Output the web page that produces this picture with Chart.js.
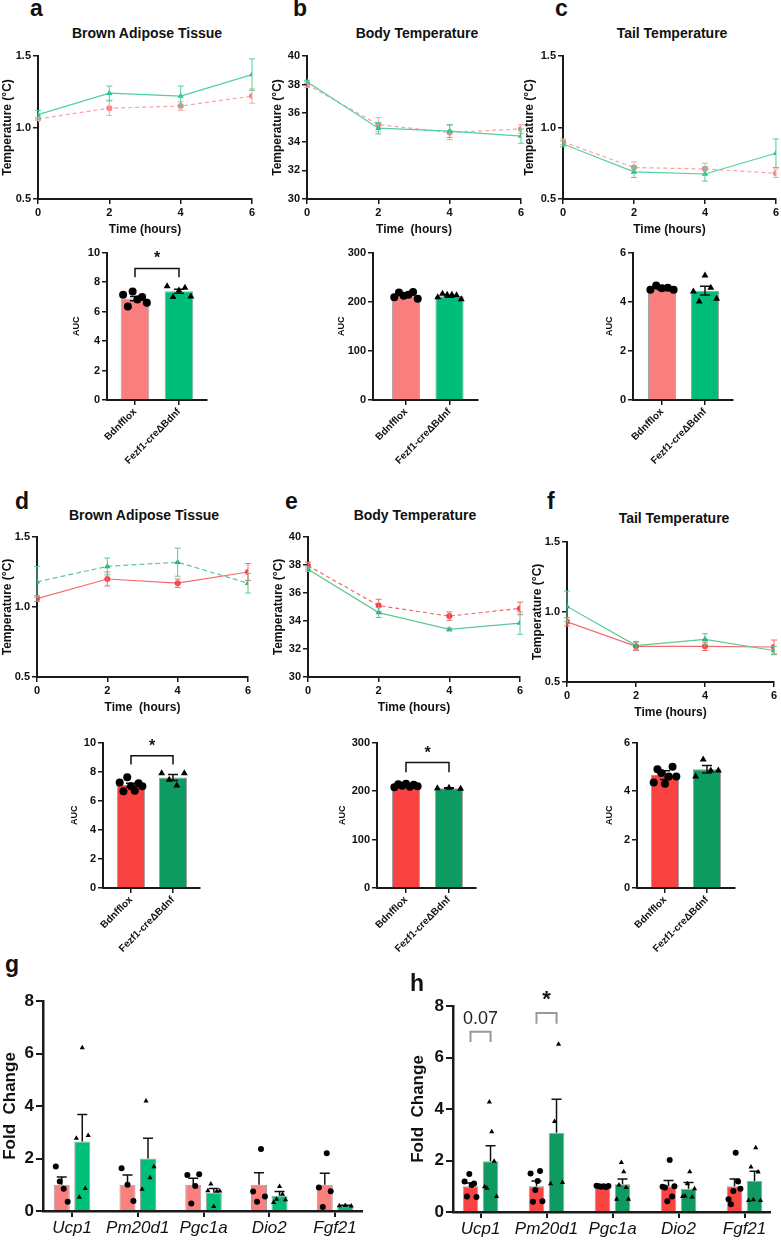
<!DOCTYPE html>
<html><head><meta charset="utf-8">
<script src="https://cdn.jsdelivr.net/npm/chart.js@4.4.0/dist/chart.umd.min.js"></script>
<style>
html,body{margin:0;padding:0;background:#fff;}
#root{position:relative;width:781px;height:1240px;overflow:hidden;font-family:"Liberation Sans",Arial,sans-serif;}
canvas{position:absolute;}
.t{position:absolute;white-space:nowrap;line-height:1;color:#111;font-weight:bold;}
</style></head><body><div id="root"></div>
<script>
// ---------------- DATA ----------------
const hours = [0, 2, 4, 6];
const groups = ['Bdnfflox', 'Fezf1-creΔBdnf'];
const genes = ['Ucp1', 'Pm20d1', 'Pgc1a', 'Dio2', 'Fgf21'];

// line panels (mean, SEM)
const aFlox = [1.06, 1.135, 1.15, 1.22], aFloxSem = [0.01, 0.05, 0.03, 0.05];
const aKo   = [1.09, 1.24, 1.22, 1.37],  aKoSem   = [0.03, 0.05, 0.07, 0.11];
const bFlox = [38.0, 35.2, 34.65, 34.9], bFloxSem = [0.2, 0.5, 0.5, 0.3];
const bKo   = [38.2, 34.95, 34.75, 34.4], bKoSem  = [0.1, 0.4, 0.45, 0.5];
const cFlox = [0.90, 0.72, 0.71, 0.68],  cFloxSem = [0.02, 0.04, 0.04, 0.03];
const cKo   = [0.885, 0.69, 0.675, 0.82], cKoSem  = [0.02, 0.04, 0.05, 0.1];
const dFlox = [1.06, 1.20, 1.17, 1.25],  dFloxSem = [0.02, 0.05, 0.03, 0.06];
const dKo   = [1.18, 1.29, 1.32, 1.17],  dKoSem   = [0.11, 0.06, 0.10, 0.07];
const eFlox = [37.95, 35.1, 34.35, 34.9], eFloxSem = [0.25, 0.45, 0.3, 0.45];
const eKo   = [37.7, 34.6, 33.4, 33.85], eKoSem   = [0.15, 0.35, 0.1, 0.8];
const fFlox = [0.93, 0.755, 0.755, 0.75], fFloxSem = [0.03, 0.03, 0.03, 0.05];
const fKo   = [1.04, 0.76, 0.805, 0.725], fKoSem  = [0.11, 0.03, 0.04, 0.03];

// AUC panels: individual points, mean, SEM
const aucAFloxPts = [7.14, 6.35, 7.36, 6.82, 6.98, 6.60], aucAFloxMean = 6.88, aucAFloxSem = 0.15;
const aucAKoPts   = [7.72, 6.98, 7.43, 7.61, 7.03],       aucAKoMean   = 7.38, aucAKoSem   = 0.14;
const aucBFloxPts = [209, 219, 212, 214, 220, 206],       aucBFloxMean = 213, aucBFloxSem = 2.2;
const aucBKoPts   = [209, 216, 214, 214, 213, 205],       aucBKoMean   = 211, aucBKoSem   = 1.7;
const aucCFloxPts = [4.49, 4.66, 4.55, 4.57, 4.49],       aucCFloxMean = 4.52, aucCFloxSem = 0.03;
const aucCKoPts   = [4.42, 4.01, 5.07, 4.57, 4.12],       aucCKoMean   = 4.45, aucCKoSem   = 0.18;
const aucDFloxPts = [7.25, 6.65, 7.62, 7.0, 6.68, 7.2, 7.0], aucDFloxMean = 7.08, aucDFloxSem = 0.13;
const aucDKoPts   = [7.9, 7.44, 7.05, 7.9],               aucDKoMean   = 7.6, aucDKoSem   = 0.2;
const aucEFloxPts = [208, 214, 211, 215, 209, 213, 210],  aucEFloxMean = 211, aucEFloxSem = 1.2;
const aucEKoPts   = [206, 207, 205],                      aucEKoMean   = 206, aucEKoSem   = 0.6;
const aucFFloxPts = [4.35, 4.9, 4.75, 4.3, 4.6, 5.0, 4.6], aucFFloxMean = 4.66, aucFFloxSem = 0.18;
const aucFKoPts   = [4.6, 5.3, 4.85, 4.85],               aucFKoMean   = 4.9, aucFKoSem   = 0.15;

// gene expression panels
const gFloxMean = [1, 1, 1, 1, 1], gFloxSem = [0.3, 0.37, 0.25, 0.46, 0.44];
const gKoMean = [2.65, 2.0, 0.7, 0.58, 0.2], gKoSem = [1.03, 0.77, 0.16, 0.16, 0.02];
const gFloxPts = [[1.7, 1.12, 0.85, 0.35], [1.63, 1.0, 0.38], [1.37, 0.29, 0.95, 1.40], [0.74, 0.35, 2.36, 0.55], [0.9, 0.15, 2.2, 0.75]];
const gKoPts = [[2.77, 0.52, 6.22, 0.86, 2.88], [0.83, 4.19, 1.27, 1.69], [0.77, 1.03, 0.17, 0.75, 0.76], [0.32, 0.45, 0.93, 0.64, 0.43], [0.2, 0.21, 0.19]];
const hFloxMean = [1, 1, 1, 1, 1], hFloxSem = [0.13, 0.2, 0.02, 0.22, 0.28];
const hKoMean = [1.97, 3.08, 1.08, 0.9, 1.2], hKoSem = [0.6, 1.3, 0.2, 0.25, 0.38];
const hFloxPts = [[1.18, 0.6, 1.48, 1.05, 1.11, 0.58], [1.5, 0.4, 0.85, 1.2, 1.59, 0.42], [1.02, 1.0, 0.98, 1.0, 0.97, 1.01], [0.98, 0.95, 0.42, 2.02, 0.6, 1.0], [0.5, 0.3, 0.82, 2.3, 1.18, 0.9]];
const hKoPts = [[0.98, 0.92, 4.27, 3.12, 1.97, 0.6], [1.1, 3.51, 6.51, 1.15], [0.5, 1.05, 1.92, 1.56, 0.95, 0.5], [0.6, 0.62, 1.1, 1.56, 0.58, 0.9], [0.45, 1.75, 0.48, 2.5, 1.55, 0.45]];

const lineTicksA = [0.5, 1.0, 1.5], lineTicksB = [30, 32, 34, 36, 38, 40];
const aucTicks10 = [0, 2, 4, 6, 8, 10], aucTicks300 = [0, 100, 200, 300], aucTicks6 = [0, 2, 4, 6];
const foldTicks = [0, 2, 4, 6, 8];

// ---------------- RENDER ----------------
const FF = '"Liberation Sans", Arial, sans-serif';
const AX = '#1a1a1a';
Chart.defaults.font.family = FF;
Chart.defaults.color = '#111';

const errPlugin = {
  id: 'errbars',
  afterDatasetDraw(chart, args) {
    const ds = chart.data.datasets[args.index];
    if (!ds.err) return;
    const meta = args.meta, ys = chart.scales[meta.yAxisID], ctx = chart.ctx;
    ctx.save();
    ctx.strokeStyle = ds.errColor; ctx.lineWidth = ds.errWidth || 1;
    meta.data.forEach((el, j) => {
      const raw = ds.data[j]; const v = typeof raw === 'object' ? raw.y : raw;
      const e = ds.err[j]; if (e == null) return;
      const x = el.x;
      const y1 = ys.getPixelForValue(v + e);
      const y0 = ds.errUpOnly ? ys.getPixelForValue(v) : ys.getPixelForValue(v - e);
      ctx.beginPath();
      ctx.moveTo(x, y0); ctx.lineTo(x, y1);
      ctx.moveTo(x - ds.capW, y1); ctx.lineTo(x + ds.capW, y1);
      if (!ds.errUpOnly) { ctx.moveTo(x - ds.capW, y0); ctx.lineTo(x + ds.capW, y0); }
      ctx.stroke();
    });
    ctx.restore();
  }
};
const sigPlugin = {
  id: 'sig',
  afterDraw(chart, args, o) {
    const items = (o && o.items) || [];
    const ctx = chart.ctx, xs = chart.scales.x, ys = chart.scales.y;
    items.forEach(it => {
      const x1 = xs.getPixelForValue(it.x1), x2 = xs.getPixelForValue(it.x2);
      const yt = ys.getPixelForValue(it.y), yb = ys.getPixelForValue(it.y - it.drop);
      ctx.save();
      ctx.strokeStyle = it.color; ctx.lineWidth = it.lw;
      ctx.beginPath(); ctx.moveTo(x1, yb); ctx.lineTo(x1, yt); ctx.lineTo(x2, yt); ctx.lineTo(x2, yb); ctx.stroke();
      ctx.fillStyle = it.textColor; ctx.font = it.font; ctx.textAlign = 'center'; ctx.textBaseline = 'middle';
      ctx.fillText(it.text, (x1 + x2) / 2, ys.getPixelForValue(it.ty));
      ctx.restore();
    });
  }
};
Chart.register(errPlugin, sigPlugin);

const root = document.getElementById('root');
function canvasFor(area, m) {
  const c = document.createElement('canvas');
  const w = area.r - area.l + m.l + m.r, h = area.b - area.t + m.t + m.b;
  c.width = w; c.height = h;
  c.style.left = (area.l - m.l) + 'px'; c.style.top = (area.t - m.t) + 'px';
  c.style.width = w + 'px'; c.style.height = h + 'px';
  root.appendChild(c);
  return c;
}
function text(str, left, baseline, size, extra) {
  const d = document.createElement('div');
  d.className = 't'; d.textContent = str;
  d.style.fontSize = size + 'px';
  d.style.left = left + 'px'; d.style.top = (baseline - 0.85 * size) + 'px';
  if (extra) Object.assign(d.style, extra);
  root.appendChild(d);
}
function ctext(str, cx, baseline, size) {
  text(str, cx - 200, baseline, size, {width: '400px', textAlign: 'center'});
}
function baseOpts(m, sigItems) {
  return {
    responsive: false, animation: false, events: [],
    layout: {padding: {top: m.t, right: m.r, left: 0, bottom: 0}},
    plugins: {legend: {display: false}, tooltip: {enabled: false}, sig: {items: sigItems || []}},
  };
}
function yAxis(m, min, max, tickVals, fs, title, tfs, fmt, bw) {
  return {
    type: 'linear', min, max,
    afterFit: s => { s.width = m.l; },
    afterBuildTicks: s => { s.ticks = tickVals.map(v => ({value: v})); },
    border: {display: true, color: AX, width: bw || 2},
    grid: {display: true, drawOnChartArea: false, drawTicks: true, tickLength: 5, color: AX, lineWidth: 1.5},
    ticks: {padding: 2, color: '#111', font: {size: fs, weight: 'bold'}, callback: fmt || (v => v)},
    title: {display: true, text: title, padding: 0, color: '#111', font: {size: tfs, weight: 'bold'}}
  };
}

function lineChart(area, m, flox, floxSem, ko, koSem, ymin, ymax, yTicks, fmt, xTitle, st) {
  const c = canvasFor(area, m);
  const mk = (vals, errs, col, lineCol, ps, r, dash) => ({
    type: 'scatter', showLine: true, data: hours.map((h, i) => ({x: h, y: vals[i]})),
    borderColor: lineCol, borderWidth: 1.2, borderDash: dash,
    pointStyle: ps, pointRadius: r, pointBackgroundColor: col, pointBorderColor: col, pointBorderWidth: 0,
    err: errs, errColor: lineCol, capW: 3, errWidth: 1
  });
  const opts = baseOpts(m);
  opts.scales = {
    x: {
      type: 'linear', min: 0, max: 6, offset: false,
      afterFit: s => { s.height = m.b; },
      afterBuildTicks: s => { s.ticks = hours.map(v => ({value: v})); },
      border: {display: true, color: AX, width: 2},
      grid: {display: true, offset: false, drawOnChartArea: false, drawTicks: true, tickLength: 5, color: AX, lineWidth: 1.5},
      ticks: {padding: 2, maxRotation: 0, color: '#111', font: {size: 11, weight: 'bold'}},
      title: {display: true, text: xTitle, padding: 0, color: '#111', font: {size: 12, weight: 'bold'}}
    },
    y: yAxis(m, ymin, ymax, yTicks, 11, 'Temperature (°C)', 12, fmt)
  };
  new Chart(c, {type: 'scatter', data: {datasets: [
    mk(ko, koSem, st.gp, st.gl, 'triangle', 3.5, st.gd),
    mk(flox, floxSem, st.rp, st.rl, 'circle', 3, st.rd)
  ]}, options: opts});
}

function jit(k, n, s) { return n === 1 ? 0 : -s + 2 * s * k / (n - 1); }

function aucChart(area, m, xr, bw, floxPts, floxMean, floxSem, koPts, koMean, koSem, ymax, yTicks, cols, sig) {
  const c = canvasFor(area, m);
  const opts = baseOpts(m, sig);
  opts.scales = {
    x: {
      type: 'linear', min: xr[0], max: xr[1], offset: false,
      afterFit: s => { s.height = m.b; },
      afterBuildTicks: s => { s.ticks = groups.map((g, i) => ({value: i})); },
      border: {display: true, color: AX, width: 2},
      grid: {display: true, offset: false, drawOnChartArea: false, drawTicks: true, tickLength: 5, color: AX, lineWidth: 1.5},
      ticks: {padding: 1, minRotation: 45, maxRotation: 45, autoSkip: false, color: '#111',
              font: {size: 10, weight: 'bold'}, callback: v => groups[Math.round(v)]}
    },
    y: yAxis(m, 0, ymax, yTicks, 11, 'AUC', 9)
  };
  const pts = (arr, gi, ps) => ({
    type: 'scatter', order: 0, data: arr.map((v, k) => ({x: gi + jit(k, arr.length, 0.27), y: v})),
    pointStyle: ps, pointRadius: 4, pointBackgroundColor: '#000', pointBorderColor: '#000', pointBorderWidth: 0
  });
  new Chart(c, {type: 'bar', data: {datasets: [
    {type: 'bar', order: 1, data: [{x: 0, y: floxMean}, {x: 1, y: koMean}], backgroundColor: cols,
     borderColor: '#a0a0a0', borderWidth: 1, barPercentage: bw, categoryPercentage: 1,
     err: [floxSem, koSem], errColor: '#111', capW: 5, errWidth: 1.5},
    pts(floxPts, 0, 'circle'), pts(koPts, 1, 'triangle')
  ]}, options: opts});
}

function geneChart(area, m, xr, off, cp, fMean, fSem, fPts, kMean, kSem, kPts, cols, sig) {
  const c = canvasFor(area, m);
  const opts = baseOpts(m, sig);
  opts.scales = {
    x: {
      type: 'linear', min: xr[0], max: xr[1], offset: false,
      afterFit: s => { s.height = m.b; },
      afterBuildTicks: s => { s.ticks = genes.map((g, i) => ({value: i})); },
      border: {display: true, color: AX, width: 2.5},
      grid: {display: true, offset: false, drawOnChartArea: false, drawTicks: true, tickLength: 6, color: AX, lineWidth: 2},
      ticks: {padding: 1, maxRotation: 0, autoSkip: false, color: '#111',
              font: {size: 17, style: 'italic', weight: 'normal'}, callback: v => genes[Math.round(v)]}
    },
    y: yAxis(m, 0, 8, foldTicks, 17, 'Fold  Change', 17, null, 2.5)
  };
  opts.scales.y.grid.tickLength = 7; opts.scales.y.grid.lineWidth = 2;
  const bar = (means, sems, col) => ({
    type: 'bar', order: 1, data: means.map((v, i) => ({x: i, y: v})), backgroundColor: col,
    borderColor: '#a0a0a0', borderWidth: 1, barPercentage: 0.78, categoryPercentage: cp,
    err: sems, errColor: '#111', capW: 5, errWidth: 1.5, errUpOnly: true
  });
  const pts = (lists, sign, ps, r) => ({
    type: 'scatter', order: 0,
    data: lists.flatMap((arr, i) => arr.map((v, k) => ({x: i + sign * off + jit(k, arr.length, 0.09), y: v}))),
    pointStyle: ps, pointRadius: r, pointBackgroundColor: '#000', pointBorderColor: '#000', pointBorderWidth: 0
  });
  new Chart(c, {type: 'bar', data: {datasets: [
    bar(fMean, fSem, cols[0]), bar(kMean, kSem, cols[1]),
    pts(fPts, -1, 'circle', 3), pts(kPts, 1, 'triangle', 3)
  ]}, options: opts});
}

const fmt1 = v => Number(v).toFixed(1);
const topStyle = {rp: '#F78282', rl: '#F9A3A3', rd: [4, 3], gp: '#1FC283', gl: '#4FD09C', gd: []};
const botStyleD = {rp: '#F24446', rl: '#F56A6B', rd: [], gp: '#1FA86F', gl: '#5CC79A', gd: [5, 3]};
const botStyleE = {rp: '#F24446', rl: '#F56A6B', rd: [4, 3], gp: '#1FA86F', gl: '#5CC79A', gd: []};
const botStyleF = {rp: '#F24446', rl: '#F56A6B', rd: [], gp: '#1FA86F', gl: '#5CC79A', gd: []};

lineChart({l: 38, t: 56, r: 252, b: 199}, {l: 38, t: 10, r: 8, b: 38}, aFlox, aFloxSem, aKo, aKoSem, 0.5, 1.5, lineTicksA, fmt1, 'Time (hours)', topStyle);
lineChart({l: 307, t: 56, r: 521, b: 199}, {l: 37, t: 10, r: 6, b: 38}, bFlox, bFloxSem, bKo, bKoSem, 30, 40, lineTicksB, null, 'Time  (hours)', topStyle);
lineChart({l: 563, t: 56, r: 777, b: 199}, {l: 41, t: 10, r: 4, b: 38}, cFlox, cFloxSem, cKo, cKoSem, 0.5, 1.5, lineTicksA, fmt1, 'Time (hours)', topStyle);
lineChart({l: 37, t: 537, r: 248, b: 677}, {l: 37, t: 10, r: 8, b: 38}, dFlox, dFloxSem, dKo, dKoSem, 0.5, 1.5, lineTicksA, fmt1, 'Time  (hours)', botStyleD);
lineChart({l: 308, t: 537, r: 520, b: 677}, {l: 37, t: 10, r: 6, b: 38}, eFlox, eFloxSem, eKo, eKoSem, 30, 40, lineTicksB, null, 'Time (hours)', botStyleE);
lineChart({l: 567, t: 542, r: 774, b: 682}, {l: 37, t: 10, r: 6, b: 38}, fFlox, fFloxSem, fKo, fKoSem, 0.5, 1.5, lineTicksA, fmt1, 'Time (hours)', botStyleF);

const topBars = ['#F97F7F', '#00BE79'], botBars = ['#F94343', '#0E9B62'];
const star = (y, drop, ty) => [{x1: 0, x2: 1, y, drop, text: '*', ty, color: '#111', lw: 1.5, textColor: '#111', font: 'bold 16px ' + FF}];
aucChart({l: 107, t: 252, r: 207, b: 400}, {l: 36, t: 8, r: 4, b: 80}, [-0.636, 1.636], 0.65, aucAFloxPts, aucAFloxMean, aucAFloxSem, aucAKoPts, aucAKoMean, aucAKoSem, 10, aucTicks10, topBars, star(8.92, 0.6, 9.6));
aucChart({l: 373, t: 252, r: 478, b: 400}, {l: 37, t: 8, r: 4, b: 80}, [-0.759, 1.655], 0.65, aucBFloxPts, aucBFloxMean, aucBFloxSem, aucBKoPts, aucBKoMean, aucBKoSem, 300, aucTicks300, topBars);
aucChart({l: 633, t: 252, r: 733, b: 400}, {l: 29, t: 8, r: 4, b: 80}, [-0.674, 1.651], 0.65, aucCFloxPts, aucCFloxMean, aucCFloxSem, aucCKoPts, aucCKoMean, aucCKoSem, 6, aucTicks6, topBars);
aucChart({l: 103, t: 742, r: 200, b: 888}, {l: 34, t: 8, r: 4, b: 80}, [-0.667, 1.643], 0.67, aucDFloxPts, aucDFloxMean, aucDFloxSem, aucDKoPts, aucDKoMean, aucDKoSem, 10, aucTicks10, botBars, star(9.1, 0.6, 9.75));
aucChart({l: 377, t: 742, r: 476, b: 888}, {l: 40, t: 8, r: 4, b: 80}, [-0.674, 1.628], 0.65, aucEFloxPts, aucEFloxMean, aucEFloxSem, aucEKoPts, aucEKoMean, aucEKoSem, 300, aucTicks300, botBars, star(259, 20, 278));
aucChart({l: 637, t: 742, r: 735, b: 888}, {l: 33, t: 8, r: 4, b: 80}, [-0.667, 1.667], 0.67, aucFFloxPts, aucFFloxMean, aucFFloxSem, aucFKoPts, aucFKoMean, aucFKoSem, 6, aucTicks6, botBars);

geneChart({l: 43, t: 1001, r: 362, b: 1211}, {l: 43, t: 15, r: 6, b: 29}, [-0.441, 4.41], 0.156, 0.624,
  gFloxMean, gFloxSem, gFloxPts, gKoMean, gKoSem, gKoPts, ['#FA8080', '#00BF78']);
geneChart({l: 453, t: 1006, r: 770, b: 1212}, {l: 45, t: 22, r: 8, b: 28}, [-0.417, 4.386], 0.152, 0.606,
  hFloxMean, hFloxSem, hFloxPts, hKoMean, hKoSem, hKoPts, ['#FA4343', '#0F9A62'],
  [{x1: -0.152, x2: 0.152, y: 7.0, drop: 0.4, text: '0.07', ty: 7.5, color: '#999', lw: 2, textColor: '#222', font: '18px ' + FF},
   {x1: 0.848, x2: 1.152, y: 7.73, drop: 0.42, text: '*', ty: 8.25, color: '#999', lw: 2, textColor: '#111', font: 'bold 22px ' + FF}]);

// panel letters & titles
text('a', 30, 17, 23); text('b', 293, 17, 23); text('c', 555, 17, 23);
text('d', 15, 510, 23); text('e', 285, 510, 23); text('f', 547, 510, 23);
text('g', 5, 973, 23); text('h', 410, 992, 23);
ctext('Brown Adipose Tissue', 147, 38, 14); ctext('Body Temperature', 417, 38, 14); ctext('Tail Temperature', 672, 38, 14);
ctext('Brown Adipose Tissue', 144, 520, 14); ctext('Body Temperature', 415, 520, 14); ctext('Tail Temperature', 674, 523, 14);
</script></body></html>
